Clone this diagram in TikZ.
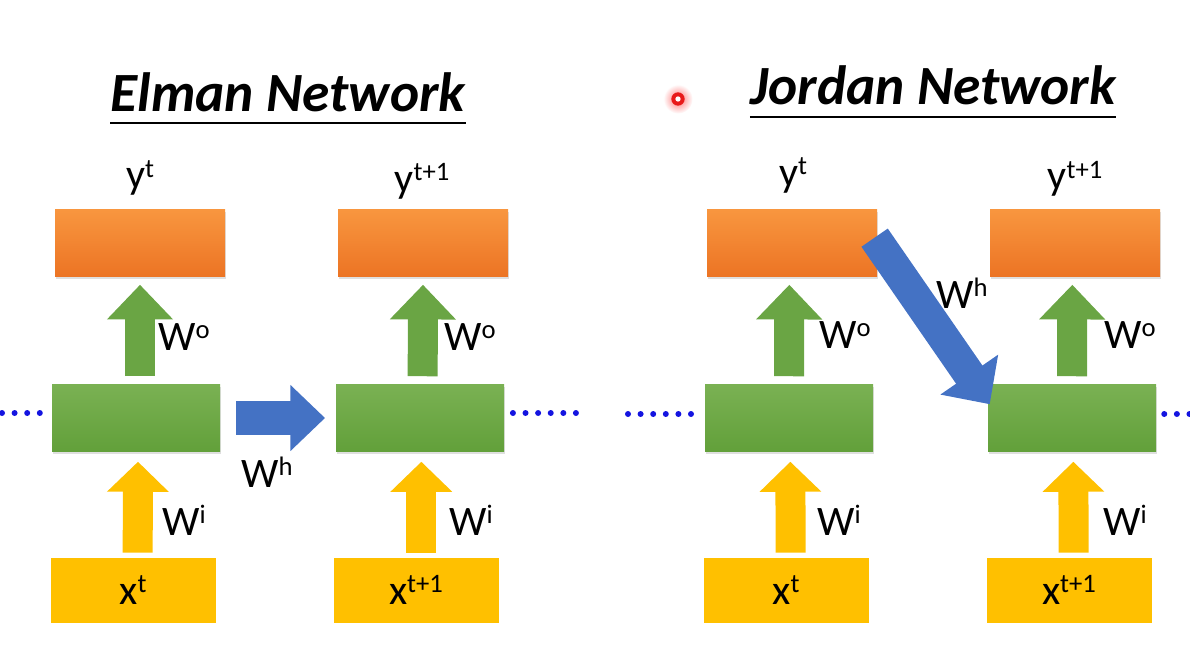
\documentclass[tikz,border=0pt]{standalone}
\usepackage{fontspec}
\setmainfont{Carlito}
\usetikzlibrary{arrows.meta,shadows}
\definecolor{orangeT}{HTML}{F8963F}
\definecolor{orangeB}{HTML}{EC7424}
\definecolor{greenT}{HTML}{7AB153}
\definecolor{greenB}{HTML}{62A03A}
\definecolor{greenA}{HTML}{6AA544}
\definecolor{yel}{HTML}{FFC000}
\definecolor{blueA}{HTML}{4472C4}
\definecolor{dotblue}{HTML}{1414E0}
\newcommand\mysup[1]{\raisebox{9pt}{\fontsize{20}{20}\selectfont #1}}
\begin{document}
\begin{tikzpicture}[x=0.75pt,y=-0.75pt,
  outbox/.style={minimum width=127.5pt,minimum height=50.25pt,inner sep=0pt,
    top color=orangeT,bottom color=orangeB,draw=none,
    drop shadow={opacity=0.25,shadow xshift=1pt,shadow yshift=-1.5pt}},
  hidbox/.style={minimum width=126pt,minimum height=50.25pt,inner sep=0pt,
    top color=greenT,bottom color=greenB,draw=none,
    drop shadow={opacity=0.25,shadow xshift=1pt,shadow yshift=-1.5pt}},
  inbox/.style={minimum width=123.75pt,minimum height=48.75pt,inner sep=0pt,
    fill=yel,draw=none,font=\fontsize{31.5}{37}\selectfont},
  lab/.style={inner sep=0pt,font=\fontsize{31.5}{37}\selectfont},
  ttl/.style={inner sep=0pt,anchor=base,font=\fontsize{41.5}{48}\selectfont\bfseries\itshape},
  garrow/.style={draw=greenA,line width=22.5pt,-{Triangle[length=26pt,width=48pt]}},
  yarrow/.style={draw=yel,line width=22.5pt,-{Triangle[length=22.5pt,width=45pt]}},
  barrow/.style={draw=blueA,line width=25pt,-{Triangle[length=26pt,width=48pt]}},
  dots/.style={draw=dotblue,line width=4.5pt,line cap=round,dash pattern=on 0pt off 9.45pt}
]
\useasboundingbox (0,0) rectangle (1190,660);

% titles
\node[ttl] (t1) at (288,112) {Elman Network};
\draw[line width=2.2pt] ([yshift=-8.25pt]t1.base west) -- ([yshift=-8.25pt]t1.base east);
\node[ttl] (t2) at (933,105) {Jordan Network};
\draw[line width=2.2pt] ([yshift=-9pt]t2.base west) -- ([yshift=-9pt]t2.base east);

% red pointer dot
\shade[inner color=red!55,outer color=white] (678,99) circle (11pt);
\fill[red!90!black!90!white] (678,99) circle (5pt);
\fill[white] (678,99) circle (2pt);

% ---------- Elman ----------
\node[outbox] (eo1) at (140,243) {};
\node[outbox] (eo2) at (423,243) {};
\node[hidbox] (eh1) at (136,418) {};
\node[hidbox] (eh2) at (420,418) {};
\node[inbox] (ex1) at (133,590) {x\mysup{t}};
\node[inbox] (ex2) at (416,590) {x\mysup{t+1}};

\node[lab,anchor=base] (ey1) at (140,189) {y\mysup{t}};
\node[lab,anchor=base] (ey2) at (422,192) {y\mysup{t+1}};

\draw[garrow] ([xshift=3pt,yshift=6pt]eh1.north) -- ([yshift=-6pt]eo1.south);
\draw[garrow] ([xshift=2pt,yshift=6pt]eh2.north) -- ([yshift=-6pt]eo2.south);
\draw[yarrow] ([xshift=3.5pt,yshift=3.5pt]ex1.north) -- ([xshift=1.5pt,yshift=-7.5pt]eh1.south);
\draw[yarrow] ([xshift=4pt,yshift=3.5pt]ex2.north) -- ([xshift=1pt,yshift=-7.5pt]eh2.south);
\draw[barrow] ([xshift=12pt]eh1.east) -- ([xshift=-8pt]eh2.west);

\node[lab,anchor=base west] (ewo1) at (158,350) {W\mysup{o}};
\node[lab,anchor=base west] (ewo2) at (444,350) {W\mysup{o}};
\node[lab,anchor=base west] (ewi1) at (162,535) {W\mysup{i}};
\node[lab,anchor=base west] (ewi2) at (449,535) {W\mysup{i}};
\node[lab,anchor=base west] (ewh) at (241,487) {W\mysup{h}};

\coordinate (edl) at (2,413);
\coordinate (edr) at (581,413);
\draw[dots] (edl) -- ([xshift=-8.3pt,yshift=3.75pt]eh1.west);
\draw[dots] ([xshift=6.5pt,yshift=3.75pt]eh2.east) -- (edr);

% ---------- Jordan ----------
\node[outbox] (jo1) at (792,243) {};
\node[outbox] (jo2) at (1075,243) {};
\node[hidbox] (jh1) at (789,418) {};
\node[hidbox] (jh2) at (1072,418) {};
\node[inbox] (jx1) at (786,590) {x\mysup{t}};
\node[inbox] (jx2) at (1069,590) {x\mysup{t+1}};

\node[lab,anchor=base] (jy1) at (793,186) {y\mysup{t}};
\node[lab,anchor=base] (jy2) at (1075,190) {y\mysup{t+1}};

\draw[garrow] ([xshift=0pt,yshift=6pt]jh1.north) -- ([xshift=-2pt,yshift=-6pt]jo1.south);
\draw[garrow] ([xshift=0pt,yshift=6pt]jh2.north) -- ([xshift=-2pt,yshift=-6pt]jo2.south);
\draw[yarrow] ([xshift=3.5pt,yshift=3.5pt]jx1.north) -- ([xshift=1pt,yshift=-7.5pt]jh1.south);
\draw[yarrow] ([xshift=3.5pt,yshift=3.5pt]jx2.north) -- ([xshift=1pt,yshift=-7.5pt]jh2.south);
\draw[barrow,line width=24pt,-{Triangle[length=27pt,width=51pt]}]
  ([xshift=-2pt,yshift=4pt]jo1.east) -- ([xshift=1.5pt,yshift=-15pt]jh2.north west);

\node[lab,anchor=base west] (jwo1) at (819,348) {W\mysup{o}};
\node[lab,anchor=base west] (jwo2) at (1104,348) {W\mysup{o}};
\node[lab,anchor=base west] (jwi1) at (817,535) {W\mysup{i}};
\node[lab,anchor=base west] (jwi2) at (1103,535) {W\mysup{i}};
\node[lab,anchor=base west] (jwh) at (936,308) {W\mysup{h}};

\coordinate (jdl) at (628,414);
\coordinate (jdr) at (1196,414);
\draw[dots] (jdl) -- ([xshift=-9pt,yshift=3pt]jh1.west);
\draw[dots] ([xshift=6pt,yshift=3pt]jh2.east) -- (jdr);
\end{tikzpicture}
\end{document}
